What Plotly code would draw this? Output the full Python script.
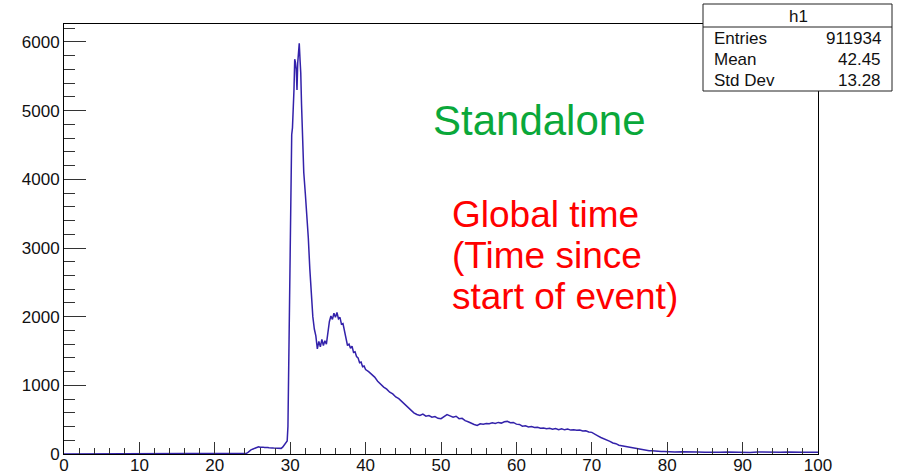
import plotly.graph_objects as go

# ---- data ----
time_ns = [0, 24.0, 24.2, 24.4, 24.6, 24.8, 25.0, 25.2, 25.4, 25.6, 25.8, 26.0, 26.2, 26.4, 26.6, 26.8,
           27.0, 27.2, 27.4, 27.6, 27.8, 28.0, 28.2, 28.4, 28.6, 28.8, 29.0, 29.2, 29.4, 29.6, 29.7,
           29.8, 29.9, 30.0, 30.1, 30.2, 30.3, 30.4, 30.5, 30.6, 30.7, 30.8, 30.9, 31.0, 31.1, 31.2,
           31.3, 31.4, 31.5, 31.6, 31.7, 31.8, 32.0, 32.2, 32.4, 32.6, 32.8, 33.0, 33.2, 33.4, 33.6,
           33.8, 34.0, 34.2, 34.4, 34.6, 34.8, 35.0, 35.2, 35.4, 35.6, 35.8, 36.0, 36.2, 36.4, 36.6,
           36.8, 37.0, 37.2, 37.4, 37.6, 37.8, 38.0, 38.2, 38.4, 38.6, 38.8, 39.0, 39.2, 39.4, 39.6,
           39.8, 40.0, 40.4, 40.8, 41.2, 41.6, 42.0, 42.4, 42.8, 43.2, 43.6, 44.0, 44.4, 44.8, 45.2,
           45.6, 46.0, 46.4, 46.8, 47.2, 47.6, 48.0, 48.4, 48.8, 49.2, 49.6, 50.0, 50.4, 50.8, 51.2,
           51.6, 52.0, 52.4, 52.8, 53.2, 53.6, 54.0, 54.4, 54.8, 55.2, 55.6, 56.0, 56.4, 56.8, 57.2,
           57.6, 58.0, 58.4, 58.8, 59.2, 59.6, 60.0, 60.4, 60.8, 61.2, 61.6, 62.0, 62.4, 62.8, 63.2,
           63.6, 64.0, 64.4, 64.8, 65.2, 65.6, 66.0, 66.4, 66.8, 67.2, 67.6, 68.0, 68.4, 68.8, 69.2,
           69.6, 70.0, 70.4, 70.8, 71.2, 71.6, 72.0, 72.4, 72.8, 73.2, 73.6, 74.0, 74.4, 74.8, 75.2,
           75.6, 76.0, 76.4, 76.8, 77.2, 77.6, 78.0, 78.4, 78.8, 79.2, 79.6, 80.0, 81, 82, 83, 84,
           85, 86, 87, 88, 89, 90, 91, 92, 93, 94, 95, 96, 97, 98, 99, 100]
counts = [0, 0, 10, 25, 45, 60, 70, 80, 95, 100, 105, 98, 103, 100, 95, 98,
          93, 90, 94, 88, 86, 84, 82, 78, 80, 82, 100, 130, 160, 190, 400,
          1300, 2400, 3200, 4300, 4650, 4750, 4950, 5300, 5750, 5700, 5600, 5300, 5700, 5800, 5980,
          5750, 5550, 5100, 4700, 4350, 4100, 3800, 3500, 3150, 2700, 2300, 2000, 1820, 1720, 1530,
          1640, 1560, 1670, 1580, 1650, 1600, 1780, 1930, 2010, 1960, 2050, 1990, 2060, 1970, 1990,
          1890, 1900, 1780, 1720, 1580, 1600, 1540, 1570, 1480, 1490, 1420, 1400, 1330, 1340, 1270,
          1280, 1230, 1200, 1160, 1120, 1060, 1010, 975, 945, 900, 875, 830, 805, 765, 725,
          690, 645, 600, 575, 560, 580, 550, 560, 535, 545, 520, 515, 545, 575, 555,
          535, 550, 515, 520, 485, 470, 445, 430, 415, 440, 435, 445, 440, 455, 445,
          460, 450, 470, 475, 455, 460, 435, 430, 405, 410, 395, 400, 385, 390, 375,
          380, 368, 375, 360, 372, 355, 368, 352, 362, 348, 352, 345, 350, 335, 338,
          320, 315, 285, 265, 240, 225, 200, 185, 160, 150, 128, 120, 102, 96, 85,
          80, 70, 68, 58, 56, 48, 47, 40, 40, 35, 36, 32, 30, 33, 27, 30,
          26, 31, 25, 29, 24, 28, 23, 29, 25, 28, 24, 30, 23, 27, 25, 27]

hist_name = "h1"
stat_labels = ["Entries", "Mean", "Std Dev"]
stat_values = ["911934", "42.45", "13.28"]
title_green = "Standalone"
red_lines = ["Global time", "(Time since", "start of event)"]

# ---- layout helpers (pixel -> paper) ----
W, H = 909, 476
L, R, T, B = 64, 818, 24, 454
def px(x):
    return (x - L) / (R - L)
def py(y):
    return (B - y) / (B - T)

FONT = "Liberation Sans, Arial, sans-serif"

fig = go.Figure()
fig.add_trace(go.Scatter(x=time_ns, y=counts, mode="lines",
                         line=dict(color="#3322aa", width=1.5), showlegend=False,
                         hoverinfo="skip"))

fig.update_layout(
    template="none",
    width=W, height=H, autosize=False,
    margin=dict(l=L, r=W - R, t=T, b=H - B, pad=0),
    paper_bgcolor="white", plot_bgcolor="white",
    font=dict(family=FONT, size=17, color="#111"),
    xaxis=dict(range=[0, 100], dtick=10, tick0=0, ticks="inside", ticklen=12, tickwidth=1,
               tickcolor="#333", showgrid=False, zeroline=False, showline=True,
               linecolor="black", linewidth=1, mirror=True, ticklabelstandoff=-4,
               automargin=False,
               minor=dict(dtick=2, ticks="inside", ticklen=6, tickcolor="#333", showgrid=False),
               tickfont=dict(family=FONT, size=17, color="#111")),
    yaxis=dict(range=[0, 6262], dtick=1000, tick0=0, ticks="inside", ticklen=22, tickwidth=1,
               tickcolor="#333", showgrid=False, zeroline=False, showline=True,
               linecolor="black", linewidth=1, mirror=True, automargin=False,
               minor=dict(dtick=200, ticks="inside", ticklen=11, tickcolor="#333", showgrid=False),
               tickfont=dict(family=FONT, size=17, color="#111")),
)

# stats box
fig.add_shape(type="rect", xref="paper", yref="paper",
              x0=px(703), x1=px(892), y0=py(91), y1=py(4),
              line=dict(color="#222", width=1), fillcolor="white", layer="above")
fig.add_shape(type="line", xref="paper", yref="paper",
              x0=px(703), x1=px(892), y0=py(27), y1=py(27),
              line=dict(color="#222", width=1), layer="above")
fig.add_annotation(xref="paper", yref="paper", x=px(798), y=py(16), text=hist_name,
                   showarrow=False, xanchor="center", yanchor="middle",
                   font=dict(family=FONT, size=17, color="#111"))
row_y = [38.5, 59.5, 80.5]
for lab, val, yy in zip(stat_labels, stat_values, row_y):
    fig.add_annotation(xref="paper", yref="paper", x=px(712), y=py(yy), text=lab,
                       showarrow=False, xanchor="left", yanchor="middle",
                       font=dict(family=FONT, size=17, color="#111"))
    fig.add_annotation(xref="paper", yref="paper", x=px(883), y=py(yy), text=val,
                       showarrow=False, xanchor="right", yanchor="middle",
                       font=dict(family=FONT, size=17, color="#111"))

# text labels
fig.add_annotation(xref="paper", yref="paper", x=px(539), y=py(120), text=title_green,
                   showarrow=False, xanchor="center", yanchor="middle",
                   font=dict(family=FONT, size=42, color="#0aa83a"))
for line, yy in zip(red_lines, [214, 256, 297]):
    fig.add_annotation(xref="paper", yref="paper", x=px(450), y=py(yy), text=line,
                       showarrow=False, xanchor="left", yanchor="middle",
                       font=dict(family=FONT, size=37, color="#ff0000"))

fig.write_html("out.html", config={"responsive": False, "displayModeBar": False},
               post_script="document.body.style.margin='0';document.body.style.overflow='hidden';")
